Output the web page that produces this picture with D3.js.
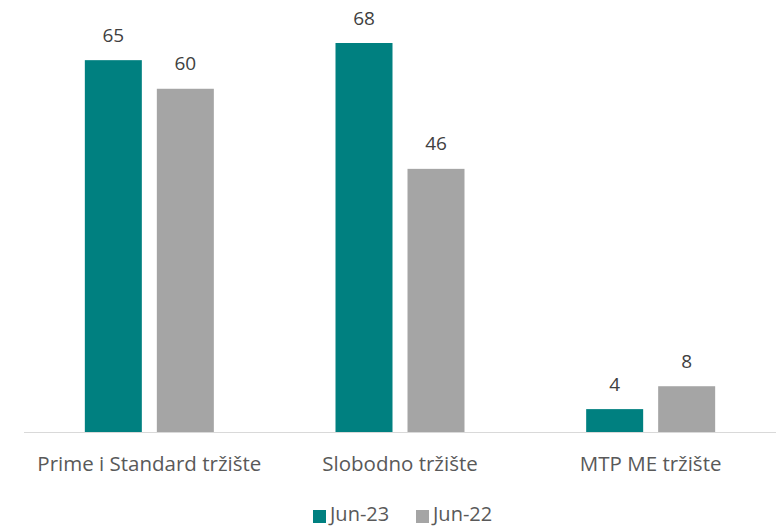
<!DOCTYPE html>
<html><head><meta charset="utf-8">
<script src="https://cdn.jsdelivr.net/npm/d3@7"></script>
<style>body{margin:0;background:#fff;} text{font-family:"Open Sans",Lato,sans-serif;}</style>
</head><body>
<svg id="c" width="776" height="527"></svg>
<script>
const categories = ["Prime i Standard tržište", "Slobodno tržište", "MTP ME tržište"];
const seriesNames = ["Jun-23", "Jun-22"];
const jun23 = [65, 68, 4];
const jun22 = [60, 46, 8];
const colors = ["#008080", "#A5A5A5"];

const svg = d3.select("#c");
const x0 = d3.scaleBand().domain(categories).range([24, 776]).paddingInner(0).paddingOuter(0);
const x1 = d3.scaleBand().domain(seriesNames).range([0, 129]).paddingInner(15/72).paddingOuter(0);
const y = d3.scaleLinear().domain([0, 68]).range([432, 43]);
const groupOffset = (x0.bandwidth() - 129) / 2;

const data = categories.map((c, i) => ({c, vals: [jun23[i], jun22[i]]}));

const g = svg.selectAll("g.cat").data(data).join("g")
  .attr("transform", d => `translate(${x0(d.c) + groupOffset},0)`);
g.selectAll("rect").data(d => d.vals.map((v, j) => ({v, s: seriesNames[j], j}))).join("rect")
  .attr("x", d => x1(d.s)).attr("width", x1.bandwidth())
  .attr("y", d => y(d.v)).attr("height", d => y(0) - y(d.v))
  .attr("fill", d => colors[d.j]);
g.selectAll("text.val").data(d => d.vals.map((v, j) => ({v, s: seriesNames[j], j}))).join("text")
  .attr("class", "val")
  .attr("x", d => x1(d.s) + x1.bandwidth() / 2).attr("y", d => y(d.v) - 18.5)
  .attr("text-anchor", "middle").attr("font-size", 19).attr("fill", "#404040")
  .text(d => d.v);

svg.append("line").attr("x1", 24).attr("x2", 776).attr("y1", 432.5).attr("y2", 432.5)
  .attr("stroke", "#D9D9D9").attr("stroke-width", 1);

svg.selectAll("text.cat").data(categories).join("text").attr("class", "cat")
  .attr("x", d => x0(d) + x0.bandwidth() / 2).attr("y", 471)
  .attr("text-anchor", "middle").attr("font-size", 20.5).attr("fill", "#595959")
  .text(d => d);

const legX = [313, 416];
const lg = svg.selectAll("g.leg").data(seriesNames).join("g").attr("class", "leg")
  .attr("transform", (d, i) => `translate(${legX[i]},0)`);
lg.append("rect").attr("x", 0).attr("y", 510).attr("width", 13).attr("height", 13)
  .attr("fill", (d, i) => colors[i]);
lg.append("text").attr("x", 17).attr("y", 521).attr("font-size", 20).attr("fill", "#595959").text(d => d);
</script>
</body></html>
